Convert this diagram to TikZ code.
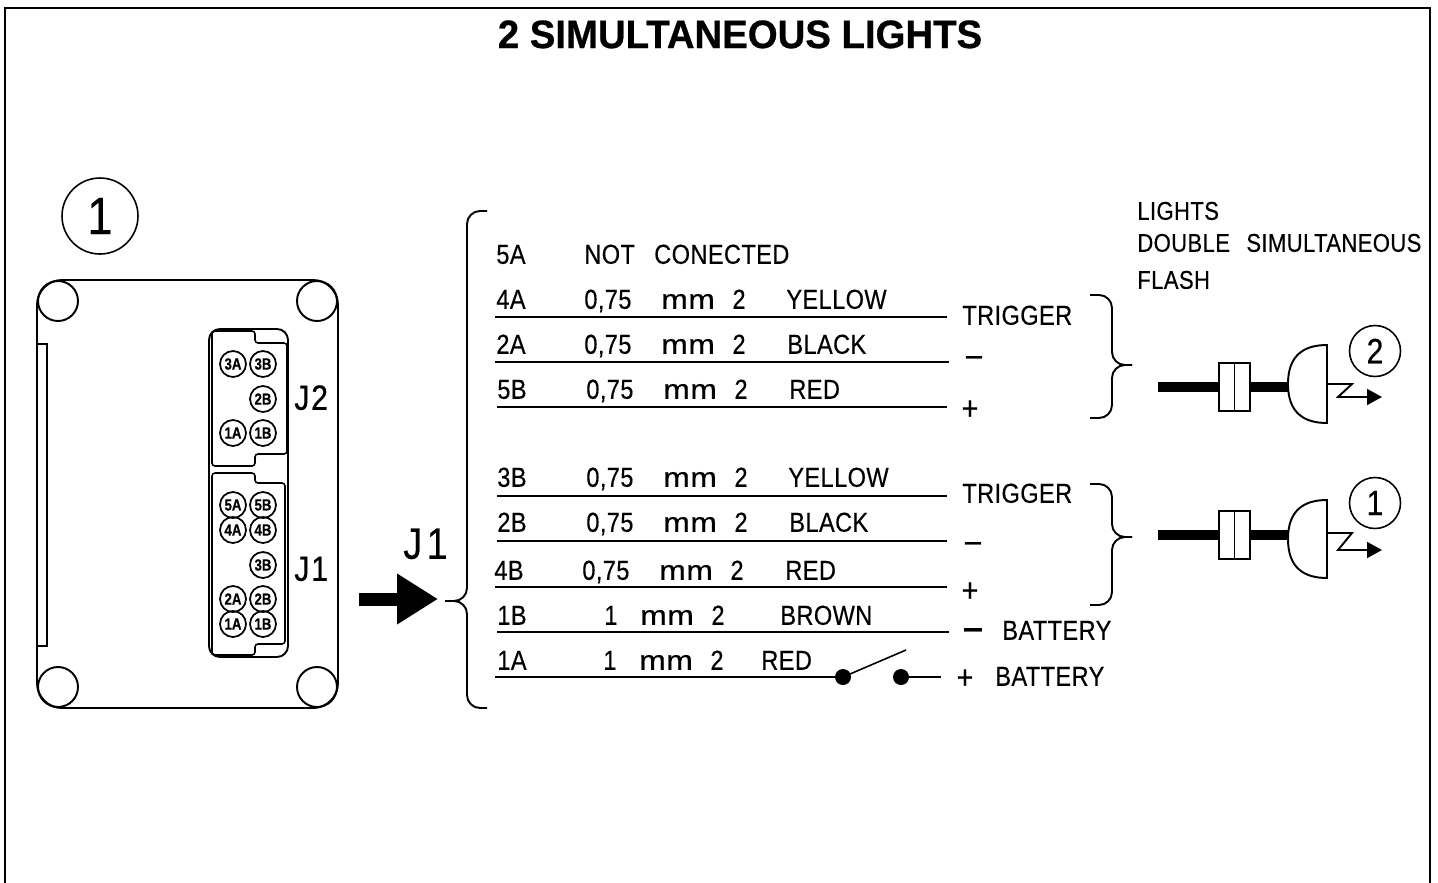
\documentclass[tikz,border=0pt]{standalone}
\usepackage{fontspec}
\setmainfont[FakeStretch=0.86,FakeBold=0.35,LetterSpace=1.5]{Liberation Sans}
\newfontfamily\titlefont[FakeStretch=0.97,FakeBold=0.7]{Liberation Sans Bold}
\newfontfamily\pinfont[FakeStretch=0.82,FakeBold=0.4]{Liberation Sans Bold}
\usetikzlibrary{arrows.meta}
\tikzset{>=Triangle}
\tikzstyle{wire}=[line width=1.1pt]
\tikzstyle{thin}=[line width=0.9pt]
\tikzstyle{cable}=[line width=5.4pt]
\tikzstyle{txt}=[anchor=base west,inner sep=0pt,yshift=0.7pt,font=\fontsize{15.6}{18}\selectfont]
\tikzstyle{head}=[txt,font=\fontsize{14.6}{17}\selectfont]
\tikzstyle{sign}=[anchor=center,inner sep=0pt,font=\fontsize{19}{20}\selectfont]
\tikzstyle{pin}=[circle,draw,line width=1pt,inner sep=0pt,minimum size=0.52cm,font=\fontsize{9.2}{10}\pinfont]
\tikzstyle{callout}=[circle,draw,line width=0.9pt,inner sep=0pt,font=\fontsize{20}{22}\selectfont]
\tikzstyle{dot}=[circle,fill=black,inner sep=0pt,minimum size=0.32cm]
\newcommand{\mmword}{\scalebox{1.35}[1]{mm}}
\newcommand{\thinsect}{0,75\hspace{17pt}\mmword\hspace{10pt}2}
\newcommand{\fatsect}{1\hspace{13pt}\mmword\hspace{10pt}2}

\begin{document}
\begin{tikzpicture}[x=0.02cm,y=-0.02cm]
\useasboundingbox (0,0) rectangle (1438,883);

\draw[wire] (5,883) -- (5,8) -- (1430,8) -- (1430,883);
\node[anchor=base,inner sep=0pt,font=\fontsize{22.5}{24}\titlefont] (title) at (740,48) {2 SIMULTANEOUS LIGHTS};

% board
\node[callout,minimum size=1.52cm,font=\fontsize{30}{32}\selectfont] (board) at (100,216) {1};
\draw[wire,rounded corners=0.5cm] (37,280) rectangle (338,708);
\foreach \hx/\hy in {58/301,317/301,58/687,317/687} {
	\draw[wire] (\hx,\hy) circle (0.4cm);
};
\draw[thin] (37,344) -- (47,344) -- (47,646) -- (37,646);

% connectors
\draw[wire,rounded corners=0.22cm] (209,329) rectangle (288,657);
\draw[thin,rounded corners=0.06cm] (212,466) -- (212,331) -- (255,331) -- (255,343) -- (287,343) -- (287,454) -- (255,454) -- (255,466) -- cycle;
\draw[thin,rounded corners=0.06cm] (212,655) -- (212,473) -- (255,473) -- (255,483) -- (285,483) -- (285,644) -- (255,644) -- (255,655) -- cycle;
\foreach \i/\px/\py in {3A/233/364,3B/263/364,2B/263/399,1A/233/433,1B/263/433} {
	\node[pin] (Jtwo\i) at (\px,\py) {\i};
};
\foreach \i/\px/\py in {5A/233/505,5B/263/505,4A/233/530,4B/263/530,3B/263/565,2A/233/599,2B/263/599,1A/233/624,1B/263/624} {
	\node[pin] (Jone\i) at (\px,\py) {\i};
};
\node[txt,font=\fontsize{20}{22}\selectfont] (Jtwolabel) at (294,411) {J\hspace{1pt}2};
\node[txt,font=\fontsize{20}{22}\selectfont] (Jonelabel) at (294,582) {J\hspace{1pt}1};

% main arrow
\node[txt,font=\fontsize{25}{27}\selectfont] (Jmain) at (403,560) {J\hspace{2.5pt}1};
\coordinate (arrA) at (359,599);
\coordinate (arrB) at (438,599);
\draw[line width=7.4pt,-{Triangle[length=0.82cm 0 0,width=0.96cm 0 0]}] (arrA) -- (arrB);

% big brace
\draw[wire,rounded corners=0.26cm] (487,211) -- (467,211) -- (467,601) -- (445,601);
\draw[wire,rounded corners=0.26cm] (445,601) -- (467,601) -- (467,708) -- (487,708);

% wires
\node[txt] (pin5A) at (496,265) {5A};
\node[txt] (nc) at (584,265) {NOT\hspace{11pt}CONECTED};
\foreach \i/\px/\sx/\cx/\sect/\col/\by/\ly/\lx/\rx in {
	4A/496/584/786/\thinsect/YELLOW/310/317/495/947,
	2A/496/584/787/\thinsect/BLACK/355/362/495/949,
	5B/497/586/789/\thinsect/RED/400/407/497/947,
	3B/497/586/788/\thinsect/YELLOW/488/496/497/947,
	2B/497/586/789/\thinsect/BLACK/533/541/497/947,
	4B/494/582/785/\thinsect/RED/581/587/495/947,
	1B/497/604/780/\fatsect/BROWN/626/632/497/949} {
	\node[txt] (pin\i) at (\px,\by) {\i};
	\node[txt] (sect\i) at (\sx,\by) {\sect};
	\node[txt] (col\i) at (\cx,\by) {\col};
	\coordinate (wA\i) at (\lx,\ly);
	\coordinate (wB\i) at (\rx,\ly);
	\draw[wire] (wA\i) -- (wB\i);
};
\node[txt] (pin1A) at (497,671) {1A};
\node[txt] (sect1A) at (603,671) {\fatsect};
\node[txt] (col1A) at (761,671) {RED};

% switch
\coordinate (swA) at (495,677);
\coordinate (swEnd) at (941,677);
\coordinate (swTop) at (906,650);
\node[dot] (swL) at (843,677) {};
\node[dot] (swR) at (901,677) {};
\draw[wire] (swA) -- (swL);
\draw[wire] (swR) -- (swEnd);
\draw[thin] (swL.center) -- (swTop);

% functions
\node[txt] (trigA) at (962,326) {TRIGGER};
\node[sign] (negA) at (974,361) {--};
\node[sign] (posA) at (970,410) {+};
\node[txt] (trigB) at (962,504) {TRIGGER};
\node[sign] (negB) at (973,547) {--};
\node[sign] (posB) at (970,592) {+};
\node[sign,font=\fontsize{24}{26}\selectfont] (negC) at (973,636) {−};
\node[txt] (batC) at (1002,641) {BATTERY};
\node[sign] (posD) at (965,679) {+};
\node[txt] (batD) at (995,687) {BATTERY};

% header
\node[head] (hA) at (1137,221) {LIGHTS};
\node[head] (hB) at (1137,253) {DOUBLE};
\node[head] (hC) at (1246,253) {SIMULTANEOUS};
\node[head] (hD) at (1137,290) {FLASH};

% lamps
\foreach \nr/\cy/\ly/\zy/\ay/\ny in {2/387/384/384/397/351,1/535/539/533/550/503} {
	\pgfmathsetmacro{\topy}{\ly-39};
	\pgfmathsetmacro{\boty}{\ly+39};
	\pgfmathsetmacro{\ctla}{\ly-28};
	\pgfmathsetmacro{\ctlb}{\ly+28};
	\node[callout,minimum size=1.02cm] (lamp\nr) at (1375,\ny) {\nr};
	\coordinate (cabA\nr) at (1158,\cy);
	\coordinate (cabB\nr) at (1290,\cy);
	\draw[cable] (cabA\nr) -- (cabB\nr);
	\draw[thin,fill=white] (1219,\cy-24) rectangle (1250,\cy+24);
	\draw[thin] (1234.5,\cy-24) -- (1234.5,\cy+24);
	\draw[wire,fill=white] (1327,\topy) .. controls (1303,\topy) and (1288,\ctla) .. (1288,\ly) .. controls (1288,\ctlb) and (1303,\boty) .. (1327,\boty) -- cycle;
	\coordinate (rayA\nr) at (1327,\zy);
	\coordinate (rayB\nr) at (1352,\zy);
	\coordinate (rayC\nr) at (1338,\ay);
	\coordinate (rayD\nr) at (1382,\ay);
	\draw[wire,-{Triangle[length=0.3cm 0 0,width=0.32cm 0 0]}] (rayA\nr) -- (rayB\nr) -- (rayC\nr) -- (rayD\nr);
};

% right braces
\foreach \ta/\mid/\bo in {295/365/418,484/537/605} {
	\draw[wire,rounded corners=0.26cm] (1090,\ta) -- (1112,\ta) -- (1112,\mid) -- (1132,\mid);
	\draw[wire,rounded corners=0.26cm] (1132,\mid) -- (1112,\mid) -- (1112,\bo) -- (1090,\bo);
};

\end{tikzpicture}
\end{document}
